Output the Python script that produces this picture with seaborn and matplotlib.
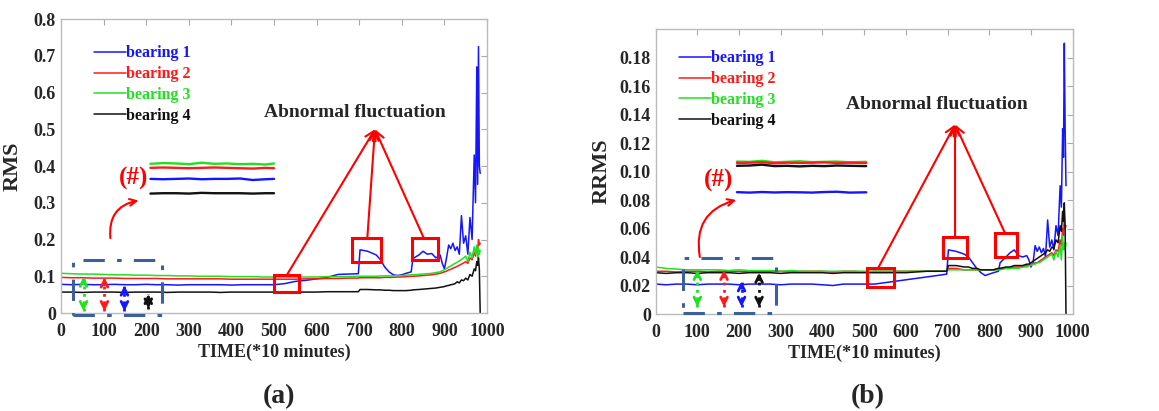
import matplotlib
matplotlib.use('Agg')
import matplotlib.pyplot as plt
import matplotlib.patches as patches
import pandas as pd
import seaborn as sns

# time axis (*10 minutes)
time = [0, 25, 50, 75, 100, 125, 150, 175, 200, 225, 250, 275, 300, 325, 350, 375, 400, 425, 450, 475,
        500, 525, 550, 575, 600, 625, 650, 675,
        698, 702, 720, 740, 750, 760, 770, 780, 790, 800, 810, 822, 826, 840, 850, 860, 870, 880, 890, 895,
        900, 905, 910, 915, 920, 925, 930, 935, 940, 945, 950, 955, 960, 965, 970, 973, 976, 978, 980, 982, 984]

bearings = ['bearing 1', 'bearing 2', 'bearing 3', 'bearing 4']
colors = ['#1515ff', '#ff1a1a', '#22e022', '#111111']

# (a) RMS
rms_b1 = [0.078, 0.077, 0.078, 0.077, 0.077, 0.078, 0.077, 0.077, 0.078, 0.077,
          0.077, 0.076, 0.077, 0.077, 0.077, 0.077, 0.076, 0.077, 0.077, 0.077,
          0.077, 0.080, 0.086, 0.089, 0.093, 0.097, 0.105, 0.106,
          0.107, 0.172, 0.168, 0.158, 0.145, 0.125, 0.112, 0.104, 0.102, 0.104,
          0.108, 0.112, 0.148, 0.158, 0.168, 0.160, 0.162, 0.150, 0.158, 0.135,
          0.120, 0.150, 0.185, 0.175, 0.190, 0.170, 0.180, 0.160, 0.265, 0.190,
          0.210, 0.160, 0.260, 0.200, 0.430, 0.300, 0.670, 0.350, 0.725, 0.400, 0.380]
rms_b2 = [0.097, 0.096, 0.096, 0.095, 0.095, 0.095, 0.094, 0.094, 0.094, 0.094,
          0.093, 0.093, 0.093, 0.093, 0.093, 0.093, 0.092, 0.092, 0.092, 0.092,
          0.092, 0.092, 0.092, 0.093, 0.093, 0.094, 0.094, 0.095,
          0.095, 0.096, 0.096, 0.096, 0.096, 0.097, 0.097, 0.097, 0.098, 0.098,
          0.099, 0.100, 0.100, 0.101, 0.102, 0.103, 0.104, 0.106, 0.108, 0.110,
          0.112, 0.114, 0.117, 0.119, 0.122, 0.124, 0.127, 0.130, 0.133, 0.136,
          0.140, 0.135, 0.150, 0.145, 0.165, 0.155, 0.180, 0.170, 0.200, 0.185, 0.190]
rms_b3 = [0.108, 0.107, 0.106, 0.106, 0.105, 0.104, 0.104, 0.103, 0.103, 0.102,
          0.102, 0.101, 0.101, 0.100, 0.100, 0.100, 0.099, 0.099, 0.099, 0.098,
          0.098, 0.098, 0.098, 0.098, 0.098, 0.099, 0.099, 0.099,
          0.100, 0.100, 0.100, 0.100, 0.101, 0.101, 0.101, 0.101, 0.102, 0.102,
          0.103, 0.104, 0.104, 0.105, 0.106, 0.107, 0.108, 0.110, 0.112, 0.115,
          0.118, 0.121, 0.125, 0.128, 0.132, 0.135, 0.138, 0.142, 0.146, 0.150,
          0.155, 0.140, 0.165, 0.150, 0.180, 0.160, 0.185, 0.150, 0.175, 0.160, 0.170]
rms_b4 = [0.057, 0.057, 0.056, 0.057, 0.057, 0.057, 0.056, 0.057, 0.057, 0.057,
          0.056, 0.057, 0.057, 0.057, 0.057, 0.056, 0.057, 0.057, 0.057, 0.057,
          0.057, 0.057, 0.057, 0.057, 0.057, 0.058, 0.058, 0.058,
          0.058, 0.064, 0.064, 0.063, 0.063, 0.062, 0.062, 0.061, 0.061, 0.061,
          0.061, 0.062, 0.063, 0.064, 0.065, 0.066, 0.067, 0.068, 0.070, 0.071,
          0.072, 0.074, 0.075, 0.077, 0.078, 0.080, 0.085, 0.082, 0.090, 0.088,
          0.095, 0.090, 0.105, 0.100, 0.120, 0.115, 0.140, 0.130, 0.150, 0.120, 0.000]

# (b) RRMS
rrms_b1 = [0.021, 0.0205, 0.021, 0.021, 0.0205, 0.021, 0.021, 0.021, 0.0205, 0.021,
           0.021, 0.021, 0.0205, 0.021, 0.021, 0.021, 0.0205, 0.020, 0.021, 0.021,
           0.021, 0.021, 0.022, 0.023, 0.024, 0.025, 0.026, 0.027,
           0.028, 0.045, 0.044, 0.042, 0.040, 0.036, 0.032, 0.029, 0.027, 0.028,
           0.029, 0.030, 0.036, 0.040, 0.043, 0.045, 0.041, 0.040, 0.041, 0.038,
           0.033, 0.036, 0.048, 0.044, 0.047, 0.043, 0.046, 0.040, 0.066, 0.047,
           0.052, 0.045, 0.062, 0.055, 0.090, 0.075, 0.130, 0.110, 0.190, 0.130, 0.090]
rrms_b2 = [0.030, 0.030, 0.0295, 0.030, 0.030, 0.0295, 0.030, 0.030, 0.030, 0.0295,
           0.030, 0.030, 0.030, 0.0295, 0.030, 0.030, 0.030, 0.0295, 0.030, 0.030,
           0.0295, 0.030, 0.030, 0.030, 0.030, 0.030, 0.030, 0.030,
           0.030, 0.032, 0.032, 0.031, 0.031, 0.031, 0.031, 0.031, 0.031, 0.031,
           0.031, 0.032, 0.032, 0.032, 0.032, 0.033, 0.033, 0.033, 0.034, 0.034,
           0.035, 0.035, 0.036, 0.036, 0.037, 0.038, 0.039, 0.040, 0.041, 0.042,
           0.043, 0.041, 0.045, 0.044, 0.052, 0.048, 0.060, 0.055, 0.068, 0.060, 0.062]
rrms_b3 = [0.033, 0.032, 0.0315, 0.031, 0.031, 0.031, 0.031, 0.0305, 0.031, 0.0305,
           0.0305, 0.0305, 0.030, 0.0305, 0.030, 0.030, 0.030, 0.030, 0.030, 0.030,
           0.030, 0.030, 0.030, 0.030, 0.030, 0.030, 0.030, 0.030,
           0.030, 0.031, 0.031, 0.031, 0.031, 0.031, 0.031, 0.031, 0.031, 0.031,
           0.031, 0.031, 0.031, 0.032, 0.032, 0.032, 0.032, 0.033, 0.033, 0.034,
           0.034, 0.035, 0.035, 0.036, 0.036, 0.037, 0.038, 0.039, 0.040, 0.041,
           0.042, 0.038, 0.044, 0.040, 0.048, 0.038, 0.055, 0.045, 0.050, 0.045, 0.050]
rrms_b4 = [0.029, 0.0285, 0.029, 0.029, 0.0285, 0.029, 0.029, 0.029, 0.0285, 0.029,
           0.029, 0.029, 0.0285, 0.029, 0.029, 0.029, 0.029, 0.0285, 0.029, 0.029,
           0.029, 0.029, 0.029, 0.029, 0.029, 0.0295, 0.030, 0.030,
           0.030, 0.034, 0.034, 0.033, 0.033, 0.032, 0.032, 0.031, 0.031, 0.031,
           0.031, 0.032, 0.032, 0.033, 0.033, 0.034, 0.034, 0.034, 0.035, 0.035,
           0.036, 0.037, 0.038, 0.039, 0.040, 0.041, 0.042, 0.043, 0.045, 0.044,
           0.047, 0.046, 0.052, 0.050, 0.062, 0.058, 0.072, 0.065, 0.078, 0.060, 0.000]

# zoomed-in insets (#)
inset_x_a = [210, 240, 270, 300, 330, 360, 390, 420, 450, 480, 500]
inset_a = {
    'bearing 3': [0.406, 0.408, 0.407, 0.405, 0.409, 0.406, 0.407, 0.405, 0.406, 0.404, 0.407],
    'bearing 2': [0.395, 0.396, 0.395, 0.394, 0.395, 0.396, 0.395, 0.394, 0.393, 0.395, 0.394],
    'bearing 1': [0.365, 0.364, 0.365, 0.366, 0.364, 0.365, 0.365, 0.366, 0.362, 0.364, 0.365],
    'bearing 4': [0.325, 0.326, 0.326, 0.325, 0.327, 0.326, 0.326, 0.326, 0.325, 0.326, 0.326],
}
inset_x_b = [195, 225, 255, 285, 315, 345, 375, 405, 435, 465, 505]
inset_b = {
    'bearing 3': [0.1070, 0.1068, 0.1075, 0.1065, 0.1068, 0.1072, 0.1066, 0.1068, 0.1070, 0.1065, 0.1068],
    'bearing 2': [0.1060, 0.1062, 0.1065, 0.1058, 0.1062, 0.1060, 0.1062, 0.1064, 0.1060, 0.1062, 0.1060],
    'bearing 4': [0.1040, 0.1042, 0.1048, 0.1038, 0.1040, 0.1036, 0.1040, 0.1038, 0.1042, 0.1040, 0.1038],
    'bearing 1': [0.0855, 0.0852, 0.0856, 0.0853, 0.0855, 0.0854, 0.0852, 0.0856, 0.0858, 0.0852, 0.0854],
}

sns.set_style('white')
plt.rcParams['font.family'] = ['Liberation Serif', 'DejaVu Serif']
plt.rcParams['font.weight'] = 'bold'
plt.rcParams['axes.labelweight'] = 'bold'

palette = dict(zip(bearings, colors))


def long_df(series):
    rows = []
    for name, vals in zip(bearings, series):
        for t, v in zip(time, vals):
            rows.append({'time': t, 'value': v, 'bearing': name})
    return pd.DataFrame(rows)


def draw_panel(ax, series, inset_x, inset, cfg):
    sns.lineplot(data=long_df(series), x='time', y='value', hue='bearing', hue_order=bearings,
                 palette=palette, estimator=None, linewidth=1.1, ax=ax)
    for name, vals in inset.items():
        ax.plot(inset_x, vals, color=palette[name], lw=1.7)

    ax.set_xlim(0, 1000)
    ax.set_ylim(0, cfg['ymax'])
    ax.set_xticks(range(0, 1001, 100))
    ax.set_yticks(cfg['yticks'])
    ax.set_yticklabels(cfg['yticklabels'])
    ax.tick_params(axis='both', labelsize=13, direction='in', top=True, right=True,
                   color='#aaaaaa', length=4)
    ax.tick_params(axis='x', pad=7)
    for s in ax.spines.values():
        s.set_color('#bbbbbb')
        s.set_linewidth(1.0)
    ax.set_xlabel('TIME(*10 minutes)', fontsize=13, labelpad=3)
    ax.set_ylabel(cfg['ylabel'], fontsize=16, labelpad=cfg['ylabelpad'])

    h, l = ax.get_legend_handles_labels()
    ax.legend(h[:4], l[:4], loc='upper left', bbox_to_anchor=cfg['leg_anchor'], frameon=False,
              handlelength=2.0, handletextpad=0.0, labelspacing=0.3, borderaxespad=0,
              borderpad=0, prop={'family': 'Liberation Serif', 'weight': 'bold', 'size': 11.5},
              labelcolor='linecolor')

    ax.text(cfg['abn_xy'][0], cfg['abn_xy'][1], 'Abnormal fluctuation', fontsize=14,
            fontweight='bold', ha='center', va='center')
    apex = cfg['apex']
    for (x0, y0, x1, y1) in cfg['boxes']:
        ax.add_patch(patches.Rectangle((x0, y0), x1 - x0, y1 - y0, fill=False,
                                       edgecolor='red', lw=2.2, zorder=5))
    for tip in cfg['arrow_from']:
        ax.annotate('', xy=apex, xytext=tip,
                    arrowprops=dict(arrowstyle='->', color='red', lw=1.5,
                                    mutation_scale=16, shrinkA=0, shrinkB=0))

    ax.text(cfg['hash_xy'][0], cfg['hash_xy'][1], '(#)', color='red', fontsize=18,
            fontweight='bold', ha='center', va='center')
    ax.annotate('', xy=cfg['curve_to'], xytext=cfg['curve_from'],
                arrowprops=dict(arrowstyle='->', color='red', lw=1.5, mutation_scale=12,
                                connectionstyle='arc3,rad=-0.45', shrinkA=0, shrinkB=0))

    x0, y0, x1, y1 = cfg['dash_box']
    ax.add_patch(patches.Rectangle((x0, y0), x1 - x0, y1 - y0, fill=False, edgecolor='#3d5f9c',
                                   lw=2.2, linestyle=(0, (7, 4, 1.5, 4)), clip_on=False, zorder=4))

    for (x, ytop, ybot, c) in cfg['dbl_arrows']:
        ax.plot([x, x], [ybot, ytop], color=c, lw=2.0, linestyle=':', zorder=6)
        ax.annotate('', xy=(x, ytop), xytext=(x, ytop - cfg['head']),
                    arrowprops=dict(arrowstyle='->', color=c, lw=2.0, mutation_scale=12,
                                    shrinkA=0, shrinkB=0))
        ax.annotate('', xy=(x, ybot), xytext=(x, ybot + cfg['head']),
                    arrowprops=dict(arrowstyle='->', color=c, lw=2.0, mutation_scale=12,
                                    shrinkA=0, shrinkB=0))


fig = plt.figure(figsize=(11.59, 4.11), dpi=100)
ax1 = fig.add_axes([0.0526, 0.2384, 0.3676, 0.7153])
ax2 = fig.add_axes([0.5657, 0.2360, 0.3598, 0.6934])

cfg_a = dict(
    ymax=0.8, yticks=[0, 0.1, 0.2, 0.3, 0.4, 0.5, 0.6, 0.7, 0.8],
    yticklabels=['0', '0.1', '0.2', '0.3', '0.4', '0.5', '0.6', '0.7', '0.8'],
    ylabel='RMS', ylabelpad=8, leg_anchor=(0.077, 0.91),
    abn_xy=(690, 0.547), apex=(737, 0.50),
    boxes=[(501, 0.056, 559, 0.103), (683, 0.140, 751, 0.203), (823, 0.144, 886, 0.203)],
    arrow_from=[(530, 0.103), (719, 0.203), (852, 0.203)],
    hash_xy=(170, 0.365), curve_from=(116, 0.204), curve_to=(182, 0.306),
    dash_box=(28, -0.005, 237, 0.144),
    dbl_arrows=[(53, 0.099, 0.005, '#22e022'), (102, 0.097, 0.005, '#ff1a1a'),
                (149, 0.075, 0.005, '#1515ff'), (205, 0.052, 0.012, '#111111')],
    head=0.02,
)
cfg_b = dict(
    ymax=0.2, yticks=[0, 0.02, 0.04, 0.06, 0.08, 0.10, 0.12, 0.14, 0.16, 0.18],
    yticklabels=['0', '0.02', '0.04', '0.06', '0.08', '0.10', '0.12', '0.14', '0.16', '0.18'],
    ylabel='RRMS', ylabelpad=6, leg_anchor=(0.055, 0.925),
    abn_xy=(674, 0.1467), apex=(718, 0.133),
    boxes=[(506, 0.0192, 571, 0.032), (688, 0.039, 747, 0.0543), (814, 0.040, 866, 0.0566)],
    arrow_from=[(533, 0.032), (718, 0.0543), (838, 0.0566)],
    hash_xy=(150, 0.094), curve_from=(106, 0.040), curve_to=(193, 0.080),
    dash_box=(66, 0.0005, 289, 0.039),
    dbl_arrows=[(100, 0.031, 0.005, '#22e022'), (164, 0.031, 0.005, '#ff1a1a'),
                (206, 0.023, 0.005, '#1515ff'), (248, 0.029, 0.005, '#111111')],
    head=0.005,
)

draw_panel(ax1, [rms_b1, rms_b2, rms_b3, rms_b4], inset_x_a, inset_a, cfg_a)
draw_panel(ax2, [rrms_b1, rrms_b2, rrms_b3, rrms_b4], inset_x_b, inset_b, cfg_b)

fig.text(0.241, 0.036, '(a)', fontsize=20, fontweight='bold', ha='center', va='center')
fig.text(0.749, 0.036, '(b)', fontsize=20, fontweight='bold', ha='center', va='center')

plt.savefig('out.png', dpi=100)
plt.close('all')
